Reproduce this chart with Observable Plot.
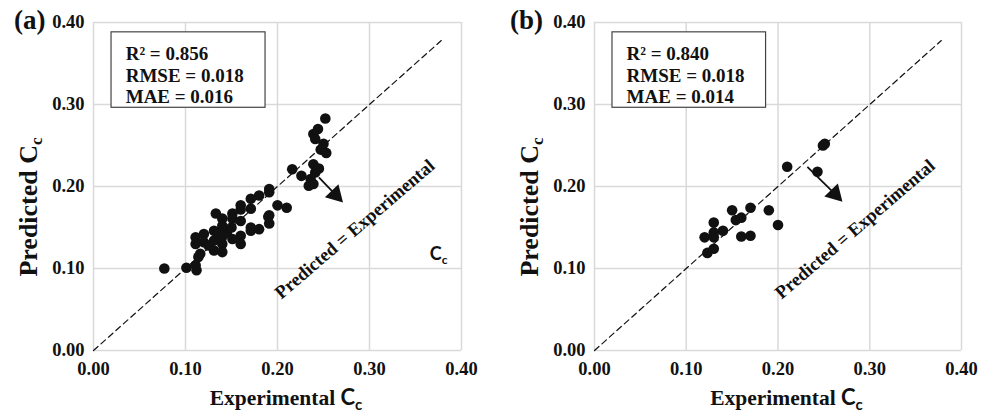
<!DOCTYPE html>
<html><head><meta charset="utf-8">
<script src="https://cdn.jsdelivr.net/npm/d3@7"></script>
<script src="https://cdn.jsdelivr.net/npm/@observablehq/plot@0.6"></script>
<style>
body{margin:0;background:#fff;}
#wrap{display:flex;width:992px;height:414px;overflow:hidden;}
</style></head><body><div id="wrap"></div>
<script>
const ticks = [0, 0.1, 0.2, 0.3, 0.4];
const tickLabels = ["0.00", "0.10", "0.20", "0.30", "0.40"];
const panelLetters = ["(a)", "(b)"];
const diagonal = [0, 0.378];

const expA = [0.252,0.244,0.239,0.241,0.250,0.247,0.253,0.239,0.216,0.226,0.241,0.236,0.234,0.239,0.191,0.191,0.180,0.171,0.171,0.160,0.160,0.151,0.133,0.140,0.151,0.160,0.200,0.210,0.191,0.191,0.180,0.171,0.171,0.160,0.160,0.151,0.145,0.140,0.140,0.140,0.140,0.131,0.131,0.131,0.120,0.120,0.111,0.111,0.116,0.114,0.077,0.101,0.111,0.112,0.245,0.150,0.125,0.135,0.190];
const predA = [0.283,0.270,0.264,0.258,0.252,0.245,0.241,0.227,0.221,0.213,0.217,0.209,0.201,0.203,0.197,0.193,0.189,0.185,0.173,0.177,0.172,0.167,0.167,0.161,0.161,0.158,0.177,0.174,0.165,0.155,0.148,0.146,0.150,0.140,0.130,0.136,0.144,0.152,0.139,0.130,0.120,0.146,0.134,0.122,0.142,0.132,0.138,0.130,0.118,0.114,0.100,0.101,0.104,0.098,0.222,0.150,0.128,0.142,0.163];

const expB = [0.249,0.251,0.243,0.210,0.200,0.190,0.170,0.150,0.154,0.160,0.130,0.140,0.130,0.120,0.130,0.160,0.170,0.123,0.130];
const predB = [0.250,0.252,0.218,0.224,0.153,0.171,0.174,0.171,0.159,0.162,0.156,0.146,0.144,0.138,0.138,0.139,0.140,0.119,0.124];

const statsA = ["R² = 0.856", "RMSE = 0.018", "MAE = 0.016"];
const statsB = ["R² = 0.840", "RMSE = 0.018", "MAE = 0.014"];
const statY = [0.362, 0.335, 0.309];
const arrowA = {x1: 0.245, y1: 0.211, x2: 0.263, y2: 0.190};
const arrowB = {x1: 0.232, y1: 0.224, x2: 0.262, y2: 0.191};
const eqLabel = "Predicted = Experimental";

const SERIF = "'Liberation Serif', 'Times New Roman', serif";
const SANS = "Lato, 'Open Sans', sans-serif";

function panel(xs, ys, stats, arrow, letter, mLeft, mRight, showCc) {
  const pts = xs.map((x, i) => ({x, y: ys[i]}));
  const plot = Plot.plot({
    width: 496, height: 414,
    marginLeft: mLeft, marginRight: mRight, marginTop: 22, marginBottom: 64,
    x: {domain: [0, 0.4]},
    y: {domain: [0, 0.4]},
    style: {fontFamily: SERIF, fontSize: "18.5px", fontWeight: "bold", color: "#111", background: "#fff"},
    marks: [
      Plot.gridX(ticks, {stroke: "#d9d9d9", strokeOpacity: 1, strokeWidth: 1.5}),
      Plot.gridY(ticks, {stroke: "#d9d9d9", strokeOpacity: 1, strokeWidth: 1.5}),
      Plot.axisX(ticks, {tickSize: 0, tickPadding: 11, tickFormat: (d, i) => tickLabels[i], label: null}),
      Plot.axisY(ticks, {tickSize: 0, tickPadding: 9, tickFormat: (d, i) => tickLabels[i], label: null}),
      Plot.line(diagonal.map(d => ({x: d, y: d})), {x: "x", y: "y", stroke: "#111", strokeWidth: 1.2, strokeDasharray: "6,4"}),
      Plot.dot(pts, {x: "x", y: "y", r: 5.3, fill: "#111", stroke: "none"}),
      Plot.rect([{x1: 0.0196, x2: 0.187, y1: 0.296, y2: 0.388}], {x1: "x1", x2: "x2", y1: "y1", y2: "y2", fill: "#fff", stroke: "#444", strokeWidth: 1.2}),
      Plot.text(stats.map((t, i) => ({t, y: statY[i]})), {x: 0.035, y: "y", text: "t", textAnchor: "start", fontSize: 19, fontWeight: "bold", fill: "#111"}),
      Plot.link([arrow], {x1: "x1", y1: "y1", x2: "x2", y2: "y2", stroke: "#111", strokeWidth: 1.8}),
      Plot.dot([arrow], {x: "x2", y: "y2", symbol: "triangle", r: 7, fill: "#111", stroke: "none", rotate: 136}),
      Plot.text([eqLabel], {x: 0.284, y: 0.148, text: d => d, rotate: -40.5, fontSize: 18.5, fontWeight: "bold", fill: "#111"})
    ]
  });
  const svg = d3.select(plot);
  const sx = plot.scale("x"), sy = plot.scale("y");
  svg.append("text").attr("x", 14).attr("y", 29).attr("text-anchor", "start").attr("font-size", 27).attr("font-weight", "bold")
    .attr("font-family", SERIF).attr("fill", "#111").text(letter);
  const yl = svg.append("text").attr("transform", `translate(${mLeft - 56},207) rotate(-90)`)
    .attr("text-anchor", "middle").attr("font-size", 26).attr("font-weight", "bold")
    .attr("font-family", SERIF).attr("fill", "#111");
  yl.append("tspan").text("Predicted C");
  yl.append("tspan").attr("font-size", 17).attr("dy", 5).text("c");
  const xl = svg.append("text").attr("x", (sx.apply(0) + sx.apply(0.4)) / 2 + 9).attr("y", 405)
    .attr("text-anchor", "middle").attr("font-size", 21.5).attr("font-weight", "bold")
    .attr("font-family", SERIF).attr("fill", "#111");
  xl.append("tspan").text("Experimental ");
  xl.append("tspan").attr("font-family", SANS).attr("font-size", 22).text("C");
  xl.append("tspan").attr("font-family", SANS).attr("font-size", 15).attr("dy", 5).text("c");
  if (showCc) {
    const cc = svg.append("text").attr("x", sx.apply(0.366)).attr("y", sy.apply(0.11)).attr("text-anchor", "start")
      .attr("font-size", 18).attr("font-weight", "bold").attr("font-family", SANS).attr("fill", "#111");
    cc.append("tspan").text("C");
    cc.append("tspan").attr("font-size", 12).attr("dy", 4).text("c");
  }
  return plot;
}

const wrap = document.getElementById("wrap");
wrap.appendChild(panel(expA, predA, statsA, arrowA, panelLetters[0], 93, 35, true));
wrap.appendChild(panel(expB, predB, statsB, arrowB, panelLetters[1], 98, 31, false));
</script></body></html>
